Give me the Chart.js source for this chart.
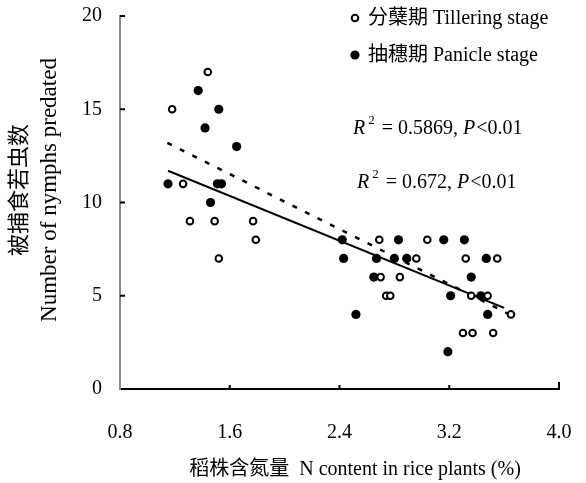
<!DOCTYPE html>
<html>
<head>
<meta charset="utf-8">
<script src="https://cdn.jsdelivr.net/npm/chart.js@4.4.1/dist/chart.umd.min.js"></script>
<style>
  body { margin: 0; background: #fff; }
  #wrap { width: 586px; height: 483px; }
</style>
</head>
<body>
<div id="wrap"><canvas id="myChart" width="586" height="483"></canvas></div>
<script>
// values
const tillerX = [1.44, 1.18, 1.26, 1.31, 1.49, 1.77, 1.79, 1.52, 2.69, 3.04, 2.96, 3.32, 3.55,
                 2.70, 2.84, 2.74, 2.77, 3.36, 3.48, 3.65, 3.30, 3.37, 3.52];
const tillerY = [17, 15, 11, 9, 9, 9, 8, 7, 8, 8, 7, 7, 7,
                 6, 6, 5, 5, 5, 5, 4, 3, 3, 3];
const panicleX = [1.37, 1.52, 1.42, 1.65, 1.15, 1.51, 1.54, 1.46, 2.42, 2.83, 3.16, 3.31,
                  2.43, 2.67, 2.80, 2.89, 3.47, 2.65, 3.36, 3.21, 3.43, 2.52, 3.48, 3.19];
const panicleY = [16, 15, 14, 13, 11, 11, 11, 10, 8, 8, 8, 8,
                  7, 7, 7, 7, 7, 6, 6, 5, 5, 4, 4, 2];
// fitted lines (end points)
const tillerFitX = [1.145, 3.65];
const tillerFitY = [13.2, 3.96];
const panicleFitX = [1.15, 3.6];
const panicleFitY = [11.7, 4.35];

const xTicks = [0.8, 1.6, 2.4, 3.2, 4.0];
const yTicks = [0, 5, 10, 15, 20];

const seriesNames = ["分蘖期 Tillering stage", "抽穗期 Panicle stage"];
const statTexts = [["0.5869", "<0.01"], ["0.672", "<0.01"]];
const yTitle = ["被捕食若虫数", "Number of nymphs predated"];
const xTitle = "稻株含氮量  N content in rice plants (%)";

const FONT = "'Liberation Serif', 'Noto Sans CJK SC', serif";

function pts(xs, ys) {
  return xs.map(function (x, i) { return { x: x, y: ys[i] }; });
}

// inward ticks, titles, legend and R² notes
const extras = {
  id: "extras",
  afterDraw(chart) {
    const ctx = chart.ctx;
    const xs = chart.scales.x, ys = chart.scales.y;
    const x0 = xs.getPixelForValue(xs.min), y0 = ys.getPixelForValue(ys.min);
    ctx.save();
    ctx.strokeStyle = "#000";
    ctx.lineWidth = 2;
    yTicks.slice(1).forEach(function (v) {
      const py = ys.getPixelForValue(v);
      ctx.beginPath(); ctx.moveTo(x0, py); ctx.lineTo(x0 + 5, py); ctx.stroke();
    });
    xTicks.slice(1).forEach(function (v, i) {
      const px = xs.getPixelForValue(v);
      const len = i === xTicks.length - 2 ? 7 : 4;
      ctx.beginPath(); ctx.moveTo(px, y0); ctx.lineTo(px, y0 - len); ctx.stroke();
    });

    ctx.fillStyle = "#000";
    // y title
    ctx.save();
    ctx.translate(20, 190);
    ctx.rotate(-Math.PI / 2);
    ctx.textAlign = "center"; ctx.textBaseline = "middle";
    ctx.font = "22px " + FONT;
    ctx.fillText(yTitle[0], 0, 0);
    ctx.font = "23px " + FONT;
    ctx.fillText(yTitle[1], 0, 30);
    ctx.restore();

    // x title
    ctx.textAlign = "center"; ctx.textBaseline = "middle";
    ctx.font = "20px " + FONT;
    ctx.fillText(xTitle, 355, 470);

    // legend
    ctx.textAlign = "left";
    ctx.font = "20px " + FONT;
    const ds = chart.data.datasets;
    [0, 1].forEach(function (i) {
      const ly = 18 + i * 37;
      ctx.beginPath();
      ctx.arc(355, ly, ds[i].pointRadius, 0, Math.PI * 2);
      ctx.fillStyle = ds[i].backgroundColor;
      ctx.fill();
      ctx.lineWidth = ds[i].borderWidth;
      ctx.strokeStyle = ds[i].borderColor;
      if (ds[i].borderWidth) ctx.stroke();
      ctx.fillStyle = "#000";
      ctx.fillText(seriesNames[i], 368, ly + 1);
    });

    // R² notes
    [[353, 129], [357, 183]].forEach(function (p, i) {
      let x = p[0];
      const y = p[1];
      ctx.textBaseline = "middle";
      ctx.font = "italic 20px " + FONT;
      ctx.fillText("R", x, y); x += ctx.measureText("R").width + 3;
      ctx.font = "13px " + FONT;
      ctx.fillText("2", x, y - 8); x += ctx.measureText("2").width + 2;
      ctx.font = "20px " + FONT;
      const mid = " = " + statTexts[i][0] + ", ";
      ctx.fillText(mid, x, y); x += ctx.measureText(mid).width;
      ctx.font = "italic 20px " + FONT;
      ctx.fillText("P", x, y); x += ctx.measureText("P").width + 1;
      ctx.font = "20px " + FONT;
      ctx.fillText(statTexts[i][1], x, y);
    });
    ctx.restore();
  }
};

new Chart(document.getElementById("myChart").getContext("2d"), {
  type: "scatter",
  data: {
    datasets: [
      { label: seriesNames[0], data: pts(tillerX, tillerY), pointRadius: 3.3, pointHoverRadius: 3.3,
        backgroundColor: "#fff", borderColor: "#000", borderWidth: 2, order: 1 },
      { label: seriesNames[1], data: pts(panicleX, panicleY), pointRadius: 4.6, pointHoverRadius: 4.6,
        backgroundColor: "#000", borderColor: "#000", borderWidth: 0, order: 2 },
      { type: "line", data: pts(tillerFitX, tillerFitY), borderColor: "#000", borderWidth: 2.5,
        borderDash: [5, 9], pointRadius: 0, fill: false, order: 3 },
      { type: "line", data: pts(panicleFitX, panicleFitY), borderColor: "#000", borderWidth: 2,
        pointRadius: 0, fill: false, order: 3 }
    ]
  },
  options: {
    responsive: false,
    animation: false,
    layout: { padding: { top: 16, right: 27, left: 0, bottom: 0 } },
    plugins: { legend: { display: false }, tooltip: { enabled: false } },
    scales: {
      x: {
        type: "linear", min: 0.8, max: 4.0,
        afterBuildTicks: function (s) { s.ticks = xTicks.map(function (v) { return { value: v }; }); },
        afterFit: function (s) { s.height = 94; s.paddingLeft = 0; s.paddingRight = 0; },
        grid: { display: false, drawTicks: false },
        border: { display: true, color: "#000", width: 2 },
        ticks: { color: "#000", padding: 32, maxRotation: 0, font: { family: FONT, size: 20 },
                 callback: function (v) { return v.toFixed(1); } }
      },
      y: {
        min: 0, max: 20,
        afterBuildTicks: function (s) { s.ticks = yTicks.map(function (v) { return { value: v }; }); },
        afterFit: function (s) { s.width = 120; s.paddingTop = 0; s.paddingBottom = 0; },
        grid: { display: false, drawTicks: false },
        border: { display: true, color: "#888", width: 2 },
        ticks: { color: "#000", padding: 18, font: { family: FONT, size: 20 } }
      }
    }
  },
  plugins: [extras]
});
</script>
</body>
</html>
